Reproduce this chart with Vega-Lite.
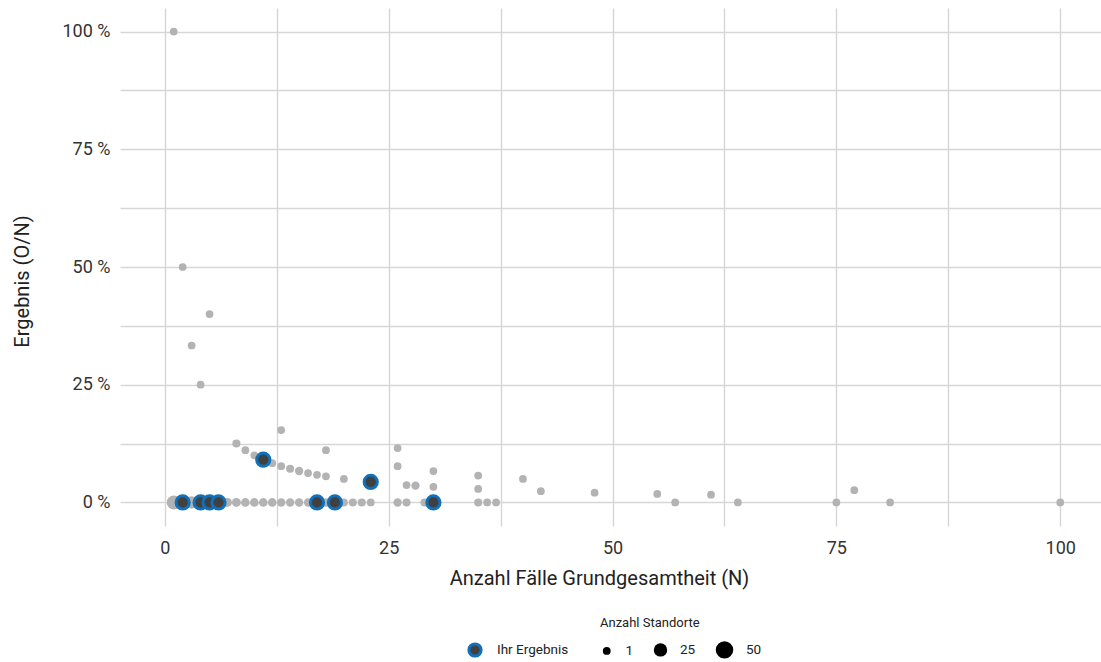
{
  "$schema": "https://vega.github.io/schema/vega-lite/v6.json",
  "width": 985,
  "height": 518,
  "autosize": {"type": "none"},
  "padding": {"left": 120, "top": 8, "right": 0, "bottom": 136},
  "background": "white",
  "config": {
    "font": "Roboto",
    "view": {"stroke": null},
    "axis": {
      "grid": true,
      "gridColor": "#d6d6d6",
      "gridWidth": 1.4,
      "domain": false,
      "ticks": false,
      "labelColor": "#333333",
      "labelFontSize": 18,
      "titleColor": "#222222",
      "titleFontSize": 20,
      "titleFontWeight": "normal"
    },
    "legend": {
      "labelFontSize": 13.5,
      "labelColor": "#222222",
      "titleFontSize": 13,
      "titleFontWeight": "normal",
      "titleColor": "#222222"
    }
  },
  "datasets": {
    "grey": [
      {"N": 1, "r": 1, "n": 1},
      {"N": 2, "r": 0.5, "n": 1},
      {"N": 3, "r": 0.3333, "n": 1},
      {"N": 4, "r": 0.25, "n": 1},
      {"N": 5, "r": 0.4, "n": 1},
      {"N": 8, "r": 0.125, "n": 2},
      {"N": 9, "r": 0.1111, "n": 1},
      {"N": 10, "r": 0.1, "n": 1},
      {"N": 11, "r": 0.0909, "n": 2},
      {"N": 12, "r": 0.0833, "n": 1},
      {"N": 13, "r": 0.0769, "n": 1},
      {"N": 13, "r": 0.1538, "n": 1},
      {"N": 14, "r": 0.0714, "n": 2},
      {"N": 15, "r": 0.0667, "n": 3},
      {"N": 16, "r": 0.0625, "n": 1},
      {"N": 17, "r": 0.0588, "n": 1},
      {"N": 18, "r": 0.0556, "n": 1},
      {"N": 18, "r": 0.1111, "n": 1},
      {"N": 20, "r": 0.05, "n": 1},
      {"N": 23, "r": 0.0435, "n": 1},
      {"N": 26, "r": 0.1154, "n": 1},
      {"N": 26, "r": 0.0769, "n": 1},
      {"N": 27, "r": 0.037, "n": 1},
      {"N": 28, "r": 0.0357, "n": 3},
      {"N": 30, "r": 0.0667, "n": 1},
      {"N": 30, "r": 0.0333, "n": 1},
      {"N": 35, "r": 0.0571, "n": 1},
      {"N": 35, "r": 0.0286, "n": 1},
      {"N": 40, "r": 0.05, "n": 1},
      {"N": 42, "r": 0.0238, "n": 1},
      {"N": 48, "r": 0.0208, "n": 1},
      {"N": 55, "r": 0.0182, "n": 1},
      {"N": 61, "r": 0.0164, "n": 1},
      {"N": 77, "r": 0.026, "n": 1},
      {"N": 1, "r": 0, "n": 28},
      {"N": 2, "r": 0, "n": 20},
      {"N": 3, "r": 0, "n": 20},
      {"N": 4, "r": 0, "n": 14},
      {"N": 5, "r": 0, "n": 12},
      {"N": 6, "r": 0, "n": 10},
      {"N": 7, "r": 0, "n": 5},
      {"N": 8, "r": 0, "n": 5},
      {"N": 9, "r": 0, "n": 4},
      {"N": 10, "r": 0, "n": 4},
      {"N": 11, "r": 0, "n": 4},
      {"N": 12, "r": 0, "n": 4},
      {"N": 13, "r": 0, "n": 3},
      {"N": 14, "r": 0, "n": 3},
      {"N": 15, "r": 0, "n": 3},
      {"N": 16, "r": 0, "n": 3},
      {"N": 17, "r": 0, "n": 3},
      {"N": 18, "r": 0, "n": 3},
      {"N": 19, "r": 0, "n": 2},
      {"N": 20, "r": 0, "n": 2},
      {"N": 21, "r": 0, "n": 2},
      {"N": 22, "r": 0, "n": 2},
      {"N": 23, "r": 0, "n": 1},
      {"N": 26, "r": 0, "n": 3},
      {"N": 27, "r": 0, "n": 2},
      {"N": 29, "r": 0, "n": 2},
      {"N": 30, "r": 0, "n": 1},
      {"N": 35, "r": 0, "n": 2},
      {"N": 36, "r": 0, "n": 1},
      {"N": 37, "r": 0, "n": 1},
      {"N": 57, "r": 0, "n": 1},
      {"N": 64, "r": 0, "n": 1},
      {"N": 75, "r": 0, "n": 1},
      {"N": 81, "r": 0, "n": 1},
      {"N": 100, "r": 0, "n": 1}
    ],
    "hl": [
      {"N": 2, "r": 0, "lab": "Ihr Ergebnis"},
      {"N": 4, "r": 0, "lab": "Ihr Ergebnis"},
      {"N": 5, "r": 0, "lab": "Ihr Ergebnis"},
      {"N": 6, "r": 0, "lab": "Ihr Ergebnis"},
      {"N": 11, "r": 0.0909, "lab": "Ihr Ergebnis"},
      {"N": 17, "r": 0, "lab": "Ihr Ergebnis"},
      {"N": 19, "r": 0, "lab": "Ihr Ergebnis"},
      {"N": 23, "r": 0.0435, "lab": "Ihr Ergebnis"},
      {"N": 30, "r": 0, "lab": "Ihr Ergebnis"}
    ]
  },
  "layer": [
    {
      "data": {"name": "grey"},
      "mark": {"type": "circle", "opacity": 1},
      "encoding": {
        "color": {"condition": {"test": "datum.n > 0", "value": "#b3b3b3"}, "value": "black"},
        "x": {
          "field": "N", "type": "quantitative",
          "scale": {"domain": [-5, 105], "nice": false, "zero": false},
          "axis": {
            "values": [0, 12.5, 25, 37.5, 50, 62.5, 75, 87.5, 100],
            "labelExpr": "datum.value % 25 === 0 ? format(datum.value, 'd') : ''",
            "labelPadding": 13,
            "title": "Anzahl Fälle Grundgesamtheit (N)",
            "titleX": 479,
            "titlePadding": 11
          }
        },
        "y": {
          "field": "r", "type": "quantitative",
          "scale": {"domain": [-0.05, 1.05], "nice": false, "zero": false},
          "axis": {
            "values": [0, 0.125, 0.25, 0.375, 0.5, 0.625, 0.75, 0.875, 1],
            "labelExpr": "(round(datum.value * 1000) % 250 === 0) ? format(datum.value * 100, 'd') + ' %' : ''",
            "labelPadding": 10,
            "title": "Ergebnis (O/N)",
            "titleY": 273,
            "titlePadding": 30
          }
        },
        "size": {
          "field": "n", "type": "quantitative",
          "scale": {"type": "linear", "domain": [1, 50], "range": [60, 305], "zero": false},
          "legend": {
            "orient": "none",
            "direction": "horizontal",
            "legendX": 480,
            "legendY": 609,
            "values": [1, 25, 50],
            "title": "Anzahl Standorte",
            "titleFontSize": 13,
            "titleAnchor": "start",
            "titlePadding": 10,
            "symbolFillColor": "black",
            "symbolOpacity": 1,
            "labelOffset": 12,
            "columnPadding": 16
          }
        }
      }
    },
    {
      "data": {"name": "hl"},
      "mark": {"type": "circle", "size": 175, "stroke": "#1170b8", "strokeWidth": 3, "opacity": 1},
      "encoding": {
        "x": {"field": "N", "type": "quantitative"},
        "y": {"field": "r", "type": "quantitative"},
        "fill": {
          "field": "lab", "type": "nominal",
          "scale": {"domain": ["Ihr Ergebnis"], "range": ["#404040"]},
          "legend": {
            "orient": "none",
            "direction": "horizontal",
            "legendX": 347,
            "legendY": 634,
            "title": null,
            "symbolType": "circle",
            "symbolSize": 150,
            "symbolStrokeColor": "#1170b8",
            "symbolStrokeWidth": 3,
            "symbolOpacity": 1,
            "labelOffset": 14
          }
        }
      }
    }
  ]
}
